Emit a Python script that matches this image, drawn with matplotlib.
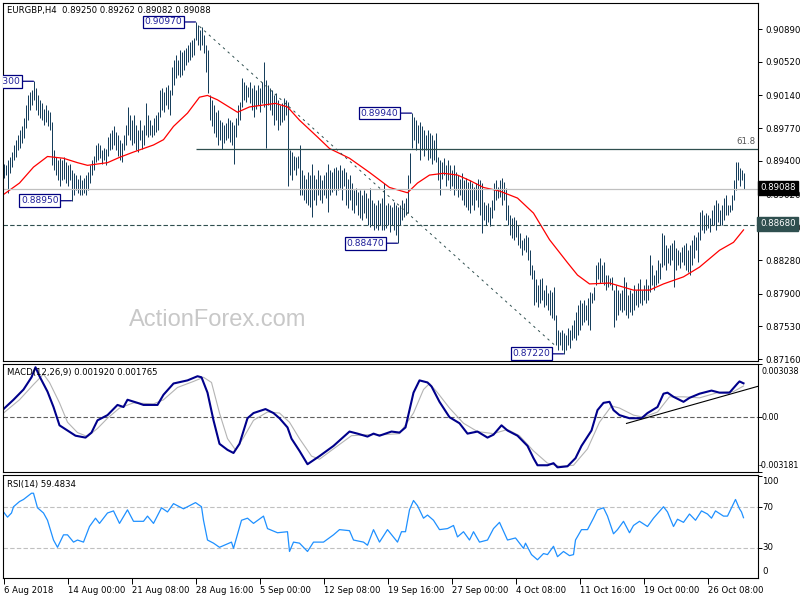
import matplotlib
matplotlib.use('Agg')
import matplotlib.pyplot as plt

# EURGBP H4 bars (one per 4h candle), high / low prices
highs = [
    0.8937, 0.8935, 0.8941, 0.8944, 0.8950, 0.8958, 0.8964, 0.8969, 0.8975, 0.8979,
    0.8988, 0.9003, 0.9014, 0.9018, 0.9020, 0.9030, 0.9022, 0.9014, 0.9009, 0.9005,
    0.8999, 0.9003, 0.8997, 0.8995, 0.8984, 0.8952, 0.8944, 0.8941, 0.8943, 0.8941,
    0.8944, 0.8939, 0.8935, 0.8937, 0.8930, 0.8926, 0.8924, 0.8920, 0.8924, 0.8918,
    0.8921, 0.8924, 0.8927, 0.8935, 0.8941, 0.8946, 0.8958, 0.8960, 0.8958, 0.8952,
    0.8955, 0.8954, 0.8967, 0.8972, 0.8975, 0.8979, 0.8973, 0.8969, 0.8964, 0.8960,
    0.8969, 0.8981, 0.9001, 0.8992, 0.8986, 0.8992, 0.8981, 0.8975, 0.8986, 0.8975,
    0.8981, 0.9005, 0.8992, 0.8986, 0.8981, 0.8988, 0.8992, 0.8995, 0.9020, 0.9022,
    0.9018, 0.9024, 0.9026, 0.9020, 0.9046, 0.9054, 0.9060, 0.9054, 0.9065, 0.9063,
    0.9065, 0.9068, 0.9071, 0.9074, 0.9077, 0.9079, 0.9097, 0.9094, 0.9088, 0.9091,
    0.9082, 0.9071, 0.9065, 0.9014, 0.9009, 0.9003, 0.8995, 0.8997, 0.8986, 0.8984,
    0.8981, 0.8983, 0.8988, 0.8986, 0.8984, 0.8981, 0.8988, 0.9003, 0.9007, 0.9034,
    0.9029, 0.9026, 0.9024, 0.9029, 0.9022, 0.9026, 0.9020, 0.9026, 0.9022, 0.9029,
    0.9052, 0.9031, 0.9026, 0.9022, 0.9020, 0.9014, 0.9017, 0.9009, 0.9003, 0.9005,
    0.9011, 0.9009, 0.9007, 0.8952, 0.8950, 0.8946, 0.8944, 0.8946, 0.8958, 0.8930,
    0.8924, 0.8920, 0.8927, 0.8924, 0.8937, 0.8924, 0.8920, 0.8930, 0.8924, 0.8918,
    0.8924, 0.8927, 0.8937, 0.8930, 0.8927, 0.8932, 0.8933, 0.8930, 0.8935, 0.8930,
    0.8932, 0.8927, 0.8920, 0.8924, 0.8915, 0.8907, 0.8909, 0.8905, 0.8907, 0.8901,
    0.8907, 0.8904, 0.8898, 0.8909, 0.8896, 0.8892, 0.8890, 0.8896, 0.8892, 0.8898,
    0.8915, 0.8890, 0.8892, 0.8890, 0.8888, 0.8894, 0.8890, 0.8888, 0.8890, 0.8896,
    0.8892, 0.8898, 0.8924, 0.8949, 0.8994, 0.8990, 0.8986, 0.8981, 0.8984, 0.8979,
    0.8975, 0.8969, 0.8975, 0.8972, 0.8969, 0.8964, 0.8972, 0.8944, 0.8941, 0.8939,
    0.8943, 0.8935, 0.8941, 0.8935, 0.8930, 0.8935, 0.8927, 0.8924, 0.8920, 0.8926,
    0.8918, 0.8921, 0.8916, 0.8918, 0.8915, 0.8910, 0.8915, 0.8920, 0.8918, 0.8915,
    0.8894, 0.8890, 0.8892, 0.8888, 0.8896, 0.8915, 0.8918, 0.8910, 0.8918, 0.8921,
    0.8916, 0.8909, 0.8890, 0.8879, 0.8875, 0.8877, 0.8873, 0.8868, 0.8859, 0.8851,
    0.8853, 0.8856, 0.8854, 0.8839, 0.8822, 0.8817, 0.8806, 0.8800, 0.8806, 0.8808,
    0.8794, 0.8800, 0.8791, 0.8794, 0.8792, 0.8797, 0.8766, 0.8749, 0.8747, 0.8749,
    0.8746, 0.8743, 0.8751, 0.8749, 0.8755, 0.8760, 0.8769, 0.8777, 0.8783, 0.8780,
    0.8783, 0.8777, 0.8785, 0.8792, 0.8791, 0.8797, 0.8822, 0.8826, 0.8830, 0.8822,
    0.8826, 0.8811, 0.8811, 0.8808, 0.8809, 0.8794, 0.8800, 0.8794, 0.8791, 0.8794,
    0.8809, 0.8803, 0.8789, 0.8794, 0.8791, 0.8800, 0.8794, 0.8802, 0.8806, 0.8794,
    0.8800, 0.8806, 0.8800, 0.8834, 0.8822, 0.8811, 0.8817, 0.8828, 0.8825, 0.8859,
    0.8856, 0.8845, 0.8842, 0.8845, 0.8847, 0.8851, 0.8842, 0.8839, 0.8837, 0.8843,
    0.8845, 0.8847, 0.8839, 0.8845, 0.8851, 0.8856, 0.8854, 0.8860, 0.8882, 0.8884,
    0.8879, 0.8881, 0.8879, 0.8875, 0.8884, 0.8890, 0.8896, 0.8892, 0.8884, 0.8890,
    0.8898, 0.8901, 0.8890, 0.8890, 0.8901, 0.8918, 0.8939, 0.8939, 0.8932, 0.8930, 0.89262,
]
lows = [
    0.8921, 0.8924, 0.8904, 0.8926, 0.8933, 0.8941, 0.8944, 0.8952, 0.8955, 0.8960,
    0.8966, 0.8977, 0.8986, 0.8997, 0.9003, 0.9009, 0.8997, 0.8992, 0.8988, 0.8986,
    0.8981, 0.8984, 0.8979, 0.8975, 0.8935, 0.8930, 0.8924, 0.8918, 0.8912, 0.8918,
    0.8920, 0.8915, 0.8912, 0.8918, 0.8895, 0.8901, 0.8907, 0.8904, 0.8901, 0.8901,
    0.8904, 0.8901, 0.8907, 0.8915, 0.8924, 0.8930, 0.8939, 0.8941, 0.8943, 0.8937,
    0.8941, 0.8935, 0.8946, 0.8952, 0.8954, 0.8958, 0.8952, 0.8946, 0.8941, 0.8939,
    0.8952, 0.8958, 0.8969, 0.8964, 0.8958, 0.8960, 0.8952, 0.8950, 0.8964, 0.8954,
    0.8958, 0.8969, 0.8967, 0.8969, 0.8967, 0.8969, 0.8973, 0.8975, 0.8990, 0.8997,
    0.8995, 0.9003, 0.8999, 0.8992, 0.9014, 0.9026, 0.9034, 0.9037, 0.9035, 0.9037,
    0.9043, 0.9048, 0.9052, 0.9054, 0.9057, 0.9060, 0.9077, 0.9071, 0.9065, 0.9071,
    0.9062, 0.9040, 0.9017, 0.8986, 0.8979, 0.8972, 0.8967, 0.8958, 0.8964, 0.8954,
    0.8960, 0.8964, 0.8966, 0.8961, 0.8958, 0.8937, 0.8967, 0.8981, 0.8986, 0.9001,
    0.9009, 0.9007, 0.9012, 0.9005, 0.8997, 0.8990, 0.8999, 0.9003, 0.8995, 0.9005,
    0.9001, 0.8955, 0.9003, 0.8997, 0.8992, 0.8981, 0.8986, 0.8975, 0.8981, 0.8984,
    0.8986, 0.8992, 0.8912, 0.8924, 0.8918, 0.8930, 0.8924, 0.8932, 0.8901, 0.8901,
    0.8896, 0.8892, 0.8890, 0.8888, 0.8877, 0.8896, 0.8890, 0.8901, 0.8896, 0.8892,
    0.8901, 0.8898, 0.8882, 0.8901, 0.8905, 0.8907, 0.8901, 0.8907, 0.8909, 0.8896,
    0.8912, 0.8890, 0.8887, 0.8896, 0.8884, 0.8881, 0.8890, 0.8879, 0.8875, 0.8873,
    0.8881, 0.8875, 0.8868, 0.8865, 0.8868, 0.8862, 0.8864, 0.8862, 0.8868, 0.8862,
    0.8862, 0.8864, 0.8868, 0.8860, 0.8868, 0.8862, 0.8856, 0.8847, 0.8868, 0.8873,
    0.8877, 0.8879, 0.8881, 0.8915, 0.8955, 0.8964, 0.8952, 0.8960, 0.8941, 0.8952,
    0.8946, 0.8952, 0.8941, 0.8943, 0.8937, 0.8941, 0.8939, 0.8918, 0.8901, 0.8920,
    0.8924, 0.8912, 0.8918, 0.8907, 0.8912, 0.8901, 0.8907, 0.8899, 0.8901, 0.8896,
    0.8890, 0.8888, 0.8884, 0.8881, 0.8890, 0.8884, 0.8896, 0.8888, 0.8879, 0.8859,
    0.8873, 0.8868, 0.8871, 0.8866, 0.8875, 0.8884, 0.8896, 0.8898, 0.8899, 0.8890,
    0.8896, 0.8873, 0.8868, 0.8856, 0.8853, 0.8851, 0.8854, 0.8845, 0.8842, 0.8834,
    0.8839, 0.8837, 0.8828, 0.8811, 0.8806, 0.8777, 0.8781, 0.8775, 0.8780, 0.8783,
    0.8775, 0.8777, 0.8772, 0.8766, 0.8763, 0.8760, 0.8732, 0.8726, 0.8732, 0.8726,
    0.8722, 0.8726, 0.8732, 0.8729, 0.8738, 0.8740, 0.8738, 0.8743, 0.8749, 0.8755,
    0.8758, 0.8760, 0.8755, 0.8749, 0.8780, 0.8783, 0.8800, 0.8806, 0.8802, 0.8803,
    0.8800, 0.8794, 0.8798, 0.8800, 0.8794, 0.8752, 0.8760, 0.8766, 0.8772, 0.8769,
    0.8772, 0.8766, 0.8763, 0.8769, 0.8766, 0.8772, 0.8777, 0.8775, 0.8780, 0.8777,
    0.8783, 0.8780, 0.8783, 0.8792, 0.8800, 0.8794, 0.8800, 0.8802, 0.8806, 0.8820,
    0.8822, 0.8817, 0.8825, 0.8822, 0.8828, 0.8798, 0.8817, 0.8822, 0.8819, 0.8826,
    0.8822, 0.8817, 0.8815, 0.8811, 0.8822, 0.8830, 0.8839, 0.8826, 0.8851, 0.8862,
    0.8859, 0.8862, 0.8864, 0.8860, 0.8868, 0.8868, 0.8862, 0.8871, 0.8868, 0.8868,
    0.8873, 0.8879, 0.8879, 0.8882, 0.8884, 0.8896, 0.8907, 0.8918, 0.8912, 0.8918, 0.89082,
]

# moving average (red), read at key bars
ma_idx = [0, 8, 15, 22, 30, 37, 42, 52, 58, 65, 75, 80, 85, 92, 98, 102, 107, 117,
          123, 136, 142, 148, 157, 163, 173, 183, 193, 202, 207, 213, 220, 227, 233,
          240, 248, 257, 265, 273, 282, 287, 293, 303, 315, 323, 330, 340, 348, 358,
          365, 370]
ma_val = [0.8902, 0.8915, 0.8933, 0.8945, 0.8943, 0.8938, 0.8935, 0.8938, 0.8944,
          0.8950, 0.8958, 0.8964, 0.8979, 0.8994, 0.9012, 0.9014, 0.9009, 0.8995,
          0.9001, 0.9005, 0.9001, 0.8986, 0.8967, 0.8954, 0.8943, 0.8927, 0.8910,
          0.8904, 0.8915, 0.8924, 0.8926, 0.8924, 0.8918, 0.8910, 0.8906, 0.8898,
          0.8881, 0.8851, 0.8825, 0.8811, 0.8801, 0.8802, 0.8794, 0.8794, 0.8801,
          0.8809, 0.8820, 0.8839, 0.8848, 0.8862]

# MACD(12,26,9) main line and signal line
macd_idx = [0, 5, 10, 14, 16, 18, 22, 25, 28, 32, 36, 41, 44, 47, 52, 57, 60, 62,
            67, 70, 77, 80, 85, 92, 97, 99, 102, 105, 108, 112, 115, 118, 122, 125,
            131, 135, 138, 142, 144, 148, 152, 158, 165, 173, 177, 182, 185, 188,
            194, 198, 201, 205, 208, 212, 214, 218, 223, 228, 232, 237, 242, 245,
            249, 252, 257, 262, 265, 267, 272, 275, 277, 282, 286, 289, 294, 297,
            300, 303, 305, 308, 313, 319, 322, 327, 330, 332, 335, 340, 343, 348,
            354, 358, 363, 367, 368, 370]
macd_val = [0.00043, 0.00097, 0.00156, 0.00227, 0.00285, 0.00233, 0.00144, 0.00055,
            -0.00051, -0.00081, -0.00111, -0.00122, -0.00093, -0.00022, 0.00008,
            0.00067, 0.00055, 0.00097, 0.00079, 0.00067, 0.00067, 0.00126, 0.00191,
            0.00209, 0.00233, 0.00227, 0.00138, -0.00022, -0.00158, -0.00193,
            -0.00211, -0.00158, -0.00010, 0.00020, 0.00043, 0.00020, -0.00010,
            -0.00063, -0.00128, -0.00199, -0.00276, -0.00229, -0.00170, -0.00087,
            -0.00099, -0.00116, -0.00099, -0.00111, -0.00087, -0.00093, -0.00063,
            0.00138, 0.00209, 0.00197, 0.00174, 0.00085, -0.00004, -0.00039,
            -0.00099, -0.00087, -0.00122, -0.00105, -0.00051, -0.00081, -0.00111,
            -0.00170, -0.00241, -0.00282, -0.00282, -0.00270, -0.00294, -0.00288,
            -0.00241, -0.00170, -0.00081, 0.00037, 0.00079, 0.00085, 0.00037,
            0.00008, -0.00010, -0.00010, 0.00020, 0.00055, 0.00132, 0.00138,
            0.00114, 0.00085, 0.00108, 0.00132, 0.00150, 0.00138, 0.00138, 0.00191,
            0.00203, 0.00192]
signal_idx = [0, 8, 15, 20, 23, 28, 32, 37, 42, 47, 52, 58, 65, 75, 80, 87, 95, 100,
              104, 108, 112, 116, 120, 125, 132, 138, 143, 148, 154, 158, 165, 174,
              182, 190, 198, 205, 210, 213, 217, 223, 230, 237, 245, 252, 258, 265,
              272, 278, 285, 292, 298, 304, 308, 315, 320, 327, 333, 340, 348, 357,
              365, 370]
signal_val = [0.00020, 0.00097, 0.00185, 0.00245, 0.00197, 0.00079, -0.00033,
              -0.00093, -0.00116, -0.00069, -0.00010, 0.00049, 0.00079, 0.00073,
              0.00097, 0.00168, 0.00203, 0.00227, 0.00197, 0.00020, -0.00128,
              -0.00193, -0.00122, -0.00022, 0.00026, 0.00020, -0.00033, -0.00128,
              -0.00229, -0.00247, -0.00187, -0.00111, -0.00105, -0.00105, -0.00099,
              0.00020, 0.00156, 0.00191, 0.00138, 0.00049, -0.00039, -0.00087,
              -0.00099, -0.00075, -0.00111, -0.00199, -0.00270, -0.00288, -0.00282,
              -0.00187, -0.00033, 0.00061, 0.00049, 0.00008, -0.00004, 0.00026,
              0.00114, 0.00114, 0.00108, 0.00138, 0.00144, 0.001765]

# RSI(14)
rsi_idx = [0, 2, 4, 5, 8, 10, 12, 14, 15, 17, 20, 22, 25, 27, 30, 32, 35, 37, 40,
           43, 46, 48, 52, 55, 58, 62, 65, 70, 72, 75, 79, 82, 85, 90, 94, 96, 99,
           100, 102, 105, 108, 114, 115, 119, 122, 125, 130, 132, 137, 142, 143,
           145, 148, 152, 155, 160, 165, 168, 173, 175, 180, 182, 185, 188, 192,
           197, 199, 201, 203, 205, 207, 210, 212, 215, 218, 222, 225, 227, 230,
           233, 235, 238, 242, 245, 248, 252, 256, 260, 261, 264, 267, 270, 272,
           275, 277, 280, 283, 285, 286, 289, 292, 295, 297, 300, 302, 305, 307,
           310, 313, 315, 318, 322, 325, 330, 332, 335, 337, 340, 343, 346, 349,
           352, 354, 356, 360, 362, 366, 368, 369, 370]
rsi_val = [65, 60, 64, 70, 75, 77, 80, 83, 83, 69, 64, 57, 38, 31, 43, 43, 36, 38,
           36, 51, 59, 54, 64, 66, 54, 67, 56, 56, 61, 54, 69, 65, 73, 68, 72, 74,
           70, 57, 38, 35, 31, 36, 30, 57, 59, 54, 61, 49, 45, 46, 27, 36, 35, 27,
           36, 36, 43, 48, 47, 38, 36, 33, 48, 36, 48, 36, 46, 46, 67, 76, 71, 59,
           62, 57, 48, 49, 52, 41, 46, 38, 46, 36, 38, 49, 55, 38, 40, 30, 35, 24,
           19, 25, 24, 32, 22, 27, 23, 24, 38, 48, 48, 59, 67, 69, 61, 44, 48, 56,
           45, 52, 56, 51, 59, 70, 65, 51, 58, 55, 63, 57, 66, 63, 59, 66, 61, 61,
           77, 68, 65, 59.48]

date_idx = [0, 32, 64, 96, 128, 160, 192, 224, 256, 288, 320, 352]
date_labels = ['6 Aug 2018', '14 Aug 00:00', '21 Aug 08:00', '28 Aug 16:00',
               '5 Sep 00:00', '12 Sep 08:00', '19 Sep 16:00', '27 Sep 00:00',
               '4 Oct 08:00', '11 Oct 16:00', '19 Oct 00:00', '26 Oct 08:00']
price_ticks = [0.90890, 0.90520, 0.90140, 0.89770, 0.89400, 0.89020,
               0.88650, 0.88280, 0.87900, 0.87530, 0.87160]

# swing points labelled on the chart: (bar, price, text)
swings = [(96, 0.9097, '0.90970'), (34, 0.8895, '0.88950'), (197, 0.8847, '0.88470'),
          (204, 0.8994, '0.89940'), (280, 0.8722, '0.87220')]

fib618 = 0.8954
last_close = 0.89088
support = 0.8868

# Plot
# ----------------------------------------------------------------------------

plt.rcParams['font.family'] = 'DejaVu Sans'
W, H = 800, 600
fig = plt.figure(figsize=(8, 6), dpi=100)


def px_axes(x0, y0, x1, y1):
    return fig.add_axes([x0 / W, 1 - y1 / H, (x1 - x0) / W, (y1 - y0) / H])


def ftext(x, y, s, **kw):
    return fig.text(x / W, 1 - y / H, s, **kw)


left, right = 2.5, 757.5
main = px_axes(left, 2.5, right, 361)
macd = px_axes(left, 364, right, 471.5)
rsi = px_axes(left, 474.5, right, 578)

for ax in (main, macd, rsi):
    ax.set_xlim(-0.5, 377)
    for sp in ax.spines.values():
        sp.set_linewidth(0.8)
        sp.set_color('black')
    ax.yaxis.tick_right()
    ax.tick_params(axis='y', direction='out', length=3, width=0.7, pad=3,
                   labelsize=6.2, colors='black')
    ax.set_xticks([])

bar_color = '#173f5c'
idx = list(range(len(highs)))

# price panel
main.set_ylim(0.87139, 0.91190)
main.vlines(idx, lows, highs, color=bar_color, lw=0.72)
main.plot(ma_idx, ma_val, color='red', lw=0.9)
main.hlines(fib618, 96, 377, color='#2f4f4f', lw=0.9)
main.axhline(last_close, color='#c0c0c0', lw=0.9)
main.axhline(support, color='#2f4f4f', lw=0.8, dashes=(4, 2))
main.plot([98, 276], [0.9092, 0.8731], color='#2f4f4f', lw=0.7, dashes=(2.5, 4))
main.text(376, fib618 + 0.00025, '61.8', fontsize=6.2, color='#555555',
          ha='right', va='bottom')
main.set_yticks(price_ticks)
main.set_yticklabels(['%.5f' % t for t in price_ticks])

box = dict(boxstyle='square,pad=0.2', fc='white', ec='#000080', lw=0.9)
for i, p, s in swings:
    main.annotate(s, xy=(i, p), xytext=(-13, 0), textcoords='offset pixels',
                  ha='right', va='center', fontsize=6.6, color='#20209a', bbox=box,
                  arrowprops=dict(arrowstyle='-', color='#000080', lw=0.9,
                                  shrinkA=0, shrinkB=0))
# the 0.90300 swing label runs off the left edge, as on the terminal
main.annotate('0.90300', xy=(15, 0.9030), xytext=(-13, 0), textcoords='offset pixels',
              ha='right', va='center', fontsize=6.6, color='#20209a', bbox=box,
              annotation_clip=False, clip_on=True,
              arrowprops=dict(arrowstyle='-', color='#000080', lw=0.9,
                              shrinkA=0, shrinkB=0))

ftext(218, 320, 'ActionForex.com', fontsize=17, color='#c8c8c8',
      family='Liberation Sans', ha='center', va='center')
ftext(7, 10.5, 'EURGBP,H4  0.89250 0.89262 0.89082 0.89088', fontsize=6.1,
      ha='left', va='center')
ftext(760, 188, '0.89088', fontsize=6.2, color='white', ha='left', va='center',
      bbox=dict(boxstyle='square,pad=0.25', fc='black', ec='black'))
ftext(760, 224, '0.88680', fontsize=6.2, color='white', ha='left', va='center',
      bbox=dict(boxstyle='square,pad=0.3', fc='#2f4f4f', ec='#2f4f4f'))

# MACD panel
macd.set_ylim(-0.003181, 0.003038)
macd.axhline(0, color='#606060', lw=0.8, dashes=(4, 2))
macd.plot(signal_idx, signal_val, color='#b4b4b4', lw=0.8)
macd.plot(macd_idx, macd_val, color='#00008b', lw=1.5)
macd.plot([311.5, 377], [-0.00040, 0.00174], color='black', lw=0.8)
macd.set_yticks([0.003038, 0.0, -0.003181])
macd.set_yticklabels([])
ftext(7, 373, 'MACD(12,26,9) 0.001920 0.001765', fontsize=6.1, ha='left', va='center')
ftext(761, 371, '0.003038', fontsize=5.8, ha='left', va='center')
ftext(761, 417, '0.00', fontsize=5.8, ha='left', va='center')
ftext(759, 465, '-0.003181', fontsize=5.8, ha='left', va='center')

# RSI panel
rsi.set_ylim(1.5, 101)
for lvl in (70, 30):
    rsi.axhline(lvl, color='#c0c0c0', lw=0.8, dashes=(4, 2))
rsi.plot(rsi_idx, rsi_val, color='#1e90ff', lw=0.9)
rsi.set_yticks([100, 70, 30])
rsi.set_yticklabels([])
ftext(7, 484, 'RSI(14) 59.4834', fontsize=6.1, ha='left', va='center')
for v, y in ((100, 481), (70, 507), (30, 548), (0, 572)):
    ftext(762, y, str(v), fontsize=6.2, ha='left', va='center')

rsi.set_xticks(date_idx)
rsi.set_xticklabels(date_labels)
rsi.tick_params(axis='x', direction='out', length=4, width=0.7, pad=1.5, labelsize=6.1)
for lbl in rsi.get_xticklabels():
    lbl.set_ha('left')

fig.savefig('out.png', dpi=100)
